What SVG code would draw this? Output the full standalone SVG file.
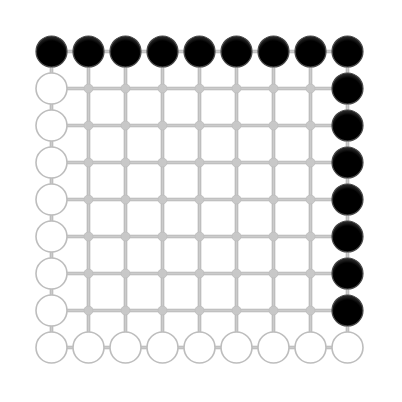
<svg xmlns="http://www.w3.org/2000/svg" width="402" height="402" viewBox="0 0 402 402">
<style>
.ln{stroke:#b4b4b4;stroke-width:3.6;fill:none}
.li{stroke:#cccccc;stroke-width:1.8;fill:none}
.dot{fill:#c8c8c8;stroke:#bdbdbd;stroke-width:0.8}
.w{fill:#ffffff;stroke:#bdbdbd;stroke-width:1.6}
.b{fill:url(#bg);stroke:#4a4a4a;stroke-width:1.2}
</style>
<defs>
<radialGradient id="bg" cx="50%" cy="60%" r="55%">
<stop offset="0.8" stop-color="#000"/>
<stop offset="1" stop-color="#222"/>
</radialGradient>
</defs>
<rect width="402" height="402" fill="#fff"/>
<g id="connectors">
<path class="ln" d="M51.5 51.5H347.5M51.5 88.5H347.5M51.5 125.5H347.5M51.5 162.5H347.5M51.5 199.5H347.5M51.5 236.5H347.5M51.5 273.5H347.5M51.5 310.5H347.5M51.5 347.5H347.5M51.5 51.5V347.5M88.5 51.5V347.5M125.5 51.5V347.5M162.5 51.5V347.5M199.5 51.5V347.5M236.5 51.5V347.5M273.5 51.5V347.5M310.5 51.5V347.5M347.5 51.5V347.5"/>
<path class="li" d="M51.5 51.5H347.5M51.5 88.5H347.5M51.5 125.5H347.5M51.5 162.5H347.5M51.5 199.5H347.5M51.5 236.5H347.5M51.5 273.5H347.5M51.5 310.5H347.5M51.5 347.5H347.5M51.5 51.5V347.5M88.5 51.5V347.5M125.5 51.5V347.5M162.5 51.5V347.5M199.5 51.5V347.5M236.5 51.5V347.5M273.5 51.5V347.5M310.5 51.5V347.5M347.5 51.5V347.5"/>
</g>
<g id="dots">
<circle class="dot" cx="88.5" cy="88.5" r="4.5"/><circle class="dot" cx="125.5" cy="88.5" r="4.5"/><circle class="dot" cx="162.5" cy="88.5" r="4.5"/><circle class="dot" cx="199.5" cy="88.5" r="4.5"/><circle class="dot" cx="236.5" cy="88.5" r="4.5"/><circle class="dot" cx="273.5" cy="88.5" r="4.5"/><circle class="dot" cx="310.5" cy="88.5" r="4.5"/>
<circle class="dot" cx="88.5" cy="125.5" r="4.5"/><circle class="dot" cx="125.5" cy="125.5" r="4.5"/><circle class="dot" cx="162.5" cy="125.5" r="4.5"/><circle class="dot" cx="199.5" cy="125.5" r="4.5"/><circle class="dot" cx="236.5" cy="125.5" r="4.5"/><circle class="dot" cx="273.5" cy="125.5" r="4.5"/><circle class="dot" cx="310.5" cy="125.5" r="4.5"/>
<circle class="dot" cx="88.5" cy="162.5" r="4.5"/><circle class="dot" cx="125.5" cy="162.5" r="4.5"/><circle class="dot" cx="162.5" cy="162.5" r="4.5"/><circle class="dot" cx="199.5" cy="162.5" r="4.5"/><circle class="dot" cx="236.5" cy="162.5" r="4.5"/><circle class="dot" cx="273.5" cy="162.5" r="4.5"/><circle class="dot" cx="310.5" cy="162.5" r="4.5"/>
<circle class="dot" cx="88.5" cy="199.5" r="4.5"/><circle class="dot" cx="125.5" cy="199.5" r="4.5"/><circle class="dot" cx="162.5" cy="199.5" r="4.5"/><circle class="dot" cx="199.5" cy="199.5" r="4.5"/><circle class="dot" cx="236.5" cy="199.5" r="4.5"/><circle class="dot" cx="273.5" cy="199.5" r="4.5"/><circle class="dot" cx="310.5" cy="199.5" r="4.5"/>
<circle class="dot" cx="88.5" cy="236.5" r="4.5"/><circle class="dot" cx="125.5" cy="236.5" r="4.5"/><circle class="dot" cx="162.5" cy="236.5" r="4.5"/><circle class="dot" cx="199.5" cy="236.5" r="4.5"/><circle class="dot" cx="236.5" cy="236.5" r="4.5"/><circle class="dot" cx="273.5" cy="236.5" r="4.5"/><circle class="dot" cx="310.5" cy="236.5" r="4.5"/>
<circle class="dot" cx="88.5" cy="273.5" r="4.5"/><circle class="dot" cx="125.5" cy="273.5" r="4.5"/><circle class="dot" cx="162.5" cy="273.5" r="4.5"/><circle class="dot" cx="199.5" cy="273.5" r="4.5"/><circle class="dot" cx="236.5" cy="273.5" r="4.5"/><circle class="dot" cx="273.5" cy="273.5" r="4.5"/><circle class="dot" cx="310.5" cy="273.5" r="4.5"/>
<circle class="dot" cx="88.5" cy="310.5" r="4.5"/><circle class="dot" cx="125.5" cy="310.5" r="4.5"/><circle class="dot" cx="162.5" cy="310.5" r="4.5"/><circle class="dot" cx="199.5" cy="310.5" r="4.5"/><circle class="dot" cx="236.5" cy="310.5" r="4.5"/><circle class="dot" cx="273.5" cy="310.5" r="4.5"/><circle class="dot" cx="310.5" cy="310.5" r="4.5"/>
</g>
<g id="top-row">
<circle id="n-0-0" class="b" cx="51.5" cy="51.5" r="15.5"/>
<circle id="n-0-1" class="b" cx="88.5" cy="51.5" r="15.5"/>
<circle id="n-0-2" class="b" cx="125.5" cy="51.5" r="15.5"/>
<circle id="n-0-3" class="b" cx="162.5" cy="51.5" r="15.5"/>
<circle id="n-0-4" class="b" cx="199.5" cy="51.5" r="15.5"/>
<circle id="n-0-5" class="b" cx="236.5" cy="51.5" r="15.5"/>
<circle id="n-0-6" class="b" cx="273.5" cy="51.5" r="15.5"/>
<circle id="n-0-7" class="b" cx="310.5" cy="51.5" r="15.5"/>
<circle id="n-0-8" class="b" cx="347.5" cy="51.5" r="15.5"/>
</g>
<g id="right-column">
<circle id="n-1-8" class="b" cx="347.5" cy="88.5" r="15.5"/>
<circle id="n-2-8" class="b" cx="347.5" cy="125.5" r="15.5"/>
<circle id="n-3-8" class="b" cx="347.5" cy="162.5" r="15.5"/>
<circle id="n-4-8" class="b" cx="347.5" cy="199.5" r="15.5"/>
<circle id="n-5-8" class="b" cx="347.5" cy="236.5" r="15.5"/>
<circle id="n-6-8" class="b" cx="347.5" cy="273.5" r="15.5"/>
<circle id="n-7-8" class="b" cx="347.5" cy="310.5" r="15.5"/>
</g>
<g id="left-column">
<circle id="n-1-0" class="w" cx="51.5" cy="88.5" r="15.5"/>
<circle id="n-2-0" class="w" cx="51.5" cy="125.5" r="15.5"/>
<circle id="n-3-0" class="w" cx="51.5" cy="162.5" r="15.5"/>
<circle id="n-4-0" class="w" cx="51.5" cy="199.5" r="15.5"/>
<circle id="n-5-0" class="w" cx="51.5" cy="236.5" r="15.5"/>
<circle id="n-6-0" class="w" cx="51.5" cy="273.5" r="15.5"/>
<circle id="n-7-0" class="w" cx="51.5" cy="310.5" r="15.5"/>
</g>
<g id="bottom-row">
<circle id="n-8-0" class="w" cx="51.5" cy="347.5" r="15.5"/>
<circle id="n-8-1" class="w" cx="88.5" cy="347.5" r="15.5"/>
<circle id="n-8-2" class="w" cx="125.5" cy="347.5" r="15.5"/>
<circle id="n-8-3" class="w" cx="162.5" cy="347.5" r="15.5"/>
<circle id="n-8-4" class="w" cx="199.5" cy="347.5" r="15.5"/>
<circle id="n-8-5" class="w" cx="236.5" cy="347.5" r="15.5"/>
<circle id="n-8-6" class="w" cx="273.5" cy="347.5" r="15.5"/>
<circle id="n-8-7" class="w" cx="310.5" cy="347.5" r="15.5"/>
<circle id="n-8-8" class="w" cx="347.5" cy="347.5" r="15.5"/>
</g>
</svg>
